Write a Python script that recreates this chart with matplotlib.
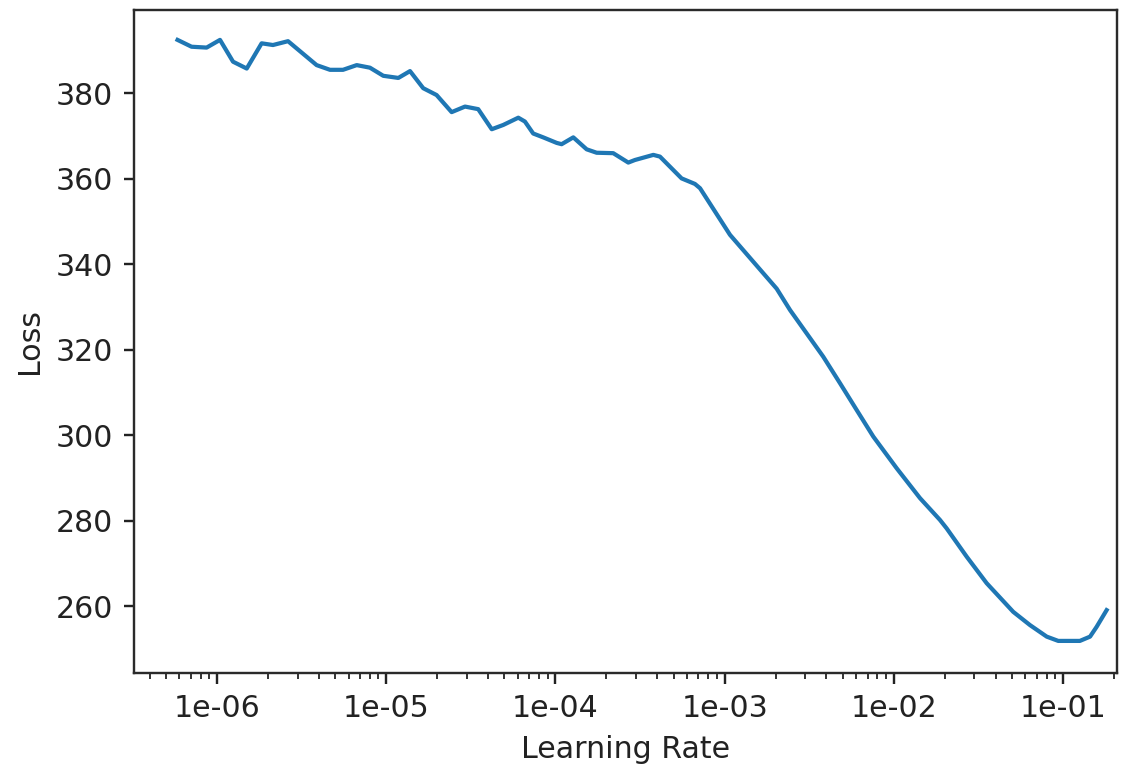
import numpy as np
import matplotlib
matplotlib.use("Agg")
import matplotlib.pyplot as plt

# learning rate (as log10 exponent) and smoothed loss
lr_exp = [-6.233, -6.150, -6.061, -5.982, -5.905, -5.824, -5.736, -5.669, -5.580,
          -5.411, -5.332, -5.255, -5.174, -5.096, -5.017, -4.928, -4.859, -4.781,
          -4.702, -4.613, -4.534, -4.456, -4.376, -4.308, -4.219, -4.180, -4.131,
          -4.072, -3.992, -3.963, -3.894, -3.815, -3.756, -3.658, -3.569, -3.530,
          -3.421, -3.382, -3.254, -3.175, -3.145, -2.968, -2.771, -2.692, -2.613,
          -2.417, -2.318, -2.219, -2.121, -1.983, -1.845, -1.727, -1.687, -1.569,
          -1.451, -1.294, -1.195, -1.096, -1.028, -0.900, -0.840, -0.801, -0.742]
loss = [392.5, 390.9, 390.7, 392.5, 387.4, 385.8, 391.7, 391.3, 392.2,
        386.6, 385.5, 385.5, 386.6, 386.0, 384.1, 383.6, 385.2, 381.2,
        379.6, 375.6, 376.9, 376.3, 371.6, 372.6, 374.3, 373.4, 370.6,
        369.7, 368.4, 368.1, 369.7, 366.9, 366.1, 366.0, 363.8, 364.4,
        365.6, 365.2, 360.1, 358.8, 357.8, 346.9, 337.9, 334.3, 329.3,
        318.4, 312.2, 305.9, 299.7, 292.3, 285.3, 280.2, 278.2, 271.6,
        265.4, 258.7, 255.6, 252.9, 251.9, 251.9, 252.9, 255.2, 259.1]

lrs = 10.0 ** np.array(lr_exp)

fig, ax = plt.subplots(figsize=(1145 / 216, 767 / 216), dpi=216)
fig.subplots_adjust(left=0.117, right=0.9755, top=0.987, bottom=0.1226)

ax.plot(lrs, loss, lw=1.4)
ax.set_xscale("log")
ax.xaxis.set_major_formatter(plt.FormatStrFormatter("%.0e"))
ax.set_xlim(10 ** -6.4905, 10 ** -0.681)
ax.set_ylim(244.4, 399.5)
ax.set_yticks(np.arange(260, 381, 20))
ax.set_xlabel("Learning Rate", color="#222222")
ax.set_ylabel("Loss", color="#222222")
ax.tick_params(which="both", colors="#222222")
for s in ax.spines.values():
    s.set_color("#2a2a2a")

fig.savefig("out.png", dpi=216)
